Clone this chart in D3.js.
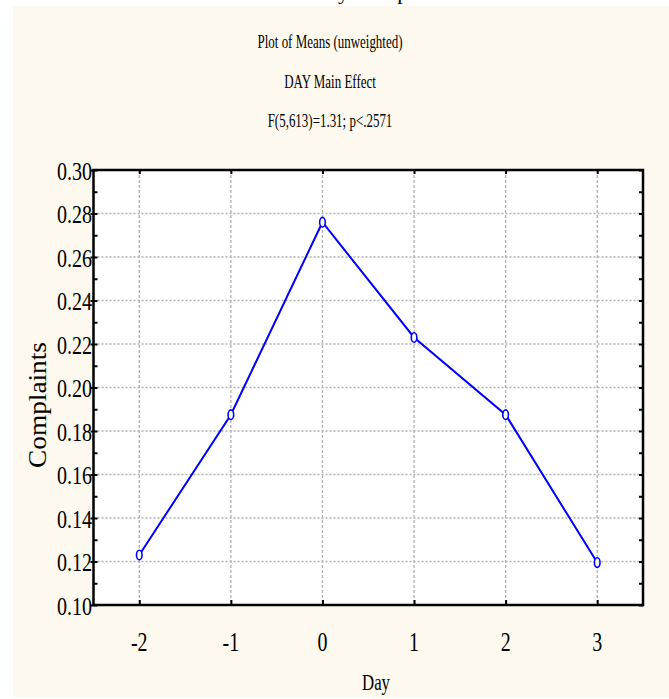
<!DOCTYPE html>
<html><head><meta charset="utf-8">
<script src="https://cdn.jsdelivr.net/npm/d3@7"></script>
<style>
html,body{margin:0;padding:0;background:#ffffff;}
svg{display:block;}
text{font-family:"Liberation Serif","Times New Roman",serif;fill:#000;}
</style></head>
<body>
<script>
// ---- data ----
const days = [-2, -1, 0, 1, 2, 3];
const means = [0.123, 0.1875, 0.276, 0.223, 0.1875, 0.1195];
const yTickValues = [0.10, 0.12, 0.14, 0.16, 0.18, 0.20, 0.22, 0.24, 0.26, 0.28, 0.30];
const yTickLabels = ["0.10", "0.12", "0.14", "0.16", "0.18", "0.20", "0.22", "0.24", "0.26", "0.28", "0.30"];
const xTickLabels = ["-2", "-1", "0", "1", "2", "3"];
const titleLeft = "Mean Dail";
const titleRight = "y Complaints";
const subtitles = ["Plot of Means (unweighted)", "DAY Main Effect", "F(5,613)=1.31; p<.2571"];
const xAxisTitle = "Day";
const yAxisTitle = "Complaints";

const W = 669, H = 699;
const L = 93.5, R = 643, T = 170, B = 605;

const svg = d3.select("body").append("svg").attr("width", W).attr("height", H);

// backgrounds
svg.append("rect").attr("x", 13).attr("y", 6).attr("width", W - 13).attr("height", 691).attr("fill", "#fdf9ee");

// title, cut off at the very top as in the reference
svg.append("text").attr("x", 338).attr("y", -1).attr("font-size", 22).attr("text-anchor", "end").text(titleLeft);
svg.append("text").attr("x", 338).attr("y", -1).attr("font-size", 22).attr("text-anchor", "start").text(titleRight);

svg.append("rect").attr("x", L).attr("y", T).attr("width", R - L).attr("height", B - T).attr("fill", "#ffffff");

const x = d3.scaleLinear().domain([-2.5, 3.5]).range([L, R]);
const y = d3.scaleLinear().domain([0.10, 0.30]).range([B, T]);

// condensed text helper
function ctext(g, tx, ty, str, size, sx, anchor, rot) {
  return g.append("text")
    .attr("transform", `translate(${tx},${ty})` + (rot ? ` rotate(${rot})` : "") + ` scale(${sx},1)`)
    .attr("font-size", size)
    .attr("text-anchor", anchor)
    .text(str);
}

// subtitles
const subY = [48, 88, 127];
subtitles.forEach((s, i) => ctext(svg, 330, subY[i], s, 18, 0.72, "middle"));

// grid
const grid = svg.append("g");
grid.selectAll("line.h").data(yTickValues.slice(1, -1)).enter().append("line")
  .attr("x1", L).attr("x2", R).attr("y1", d => y(d)).attr("y2", d => y(d))
  .attr("stroke", "#b0b0b0").attr("stroke-width", 1.3).attr("stroke-dasharray", "2,2");
grid.selectAll("line.v").data(days).enter().append("line")
  .attr("y1", T).attr("y2", B).attr("x1", d => x(d)).attr("x2", d => x(d))
  .attr("stroke", "#b0b0b0").attr("stroke-width", 1.3).attr("stroke-dasharray", "3,2");

// axes via d3 axis (ticks inward)
const minorY = d3.range(0.10, 0.3001, 0.01);
const leftAxis = d3.axisLeft(y).tickValues(minorY).tickSize(-4).tickFormat("");
svg.append("g").attr("transform", `translate(${L},0)`).call(leftAxis)
  .call(g => g.select(".domain").remove())
  .selectAll("line").attr("stroke", "#000").attr("stroke-width", 2);
const leftMajor = d3.axisLeft(y).tickValues(yTickValues).tickSize(3).tickFormat("");
svg.append("g").attr("transform", `translate(${L},0)`).call(leftMajor)
  .call(g => g.select(".domain").remove())
  .selectAll("line").attr("stroke", "#000").attr("stroke-width", 2);
const rightAxis = d3.axisRight(y).tickValues(minorY).tickSize(-4).tickFormat("");
svg.append("g").attr("transform", `translate(${R},0)`).call(rightAxis)
  .call(g => g.select(".domain").remove())
  .selectAll("line").attr("stroke", "#000").attr("stroke-width", 2);
const bottomAxis = d3.axisBottom(x).tickValues(days).tickSize(-5).tickFormat("");
svg.append("g").attr("transform", `translate(0,${B})`).call(bottomAxis)
  .call(g => g.select(".domain").remove())
  .selectAll("line").attr("stroke", "#000").attr("stroke-width", 2);
const topAxis = d3.axisTop(x).tickValues(days).tickSize(-4).tickFormat("");
svg.append("g").attr("transform", `translate(0,${T})`).call(topAxis)
  .call(g => g.select(".domain").remove())
  .selectAll("line").attr("stroke", "#000").attr("stroke-width", 2);

// frame
svg.append("rect").attr("x", L).attr("y", T).attr("width", R - L).attr("height", B - T)
  .attr("fill", "none").attr("stroke", "#000").attr("stroke-width", 2.5);

// tick labels
const yl = svg.append("g");
yTickValues.forEach((v, i) => ctext(yl, L - 1.5, y(v) + 9.5, yTickLabels[i], 26, 0.77, "end"));
const xl = svg.append("g");
days.forEach((d, i) => ctext(xl, x(d), 651, xTickLabels[i], 27, 0.74, "middle"));

// axis titles
ctext(svg, 376, 690, xAxisTitle, 24, 0.7, "middle");
ctext(svg, 46, 405, yAxisTitle, 26, 1.05, "middle", -90);

// series
const line = d3.line().x((d, i) => x(days[i])).y(d => y(d));
svg.append("path").datum(means).attr("d", line)
  .attr("fill", "none").attr("stroke", "#0000ff").attr("stroke-width", 2);
svg.selectAll("ellipse.pt").data(means).enter().append("ellipse")
  .attr("cx", (d, i) => x(days[i])).attr("cy", d => y(d))
  .attr("rx", 2.8).attr("ry", 4.8)
  .attr("fill", "#ffffff").attr("stroke", "#0000ff").attr("stroke-width", 1.6);
</script>
</body></html>
